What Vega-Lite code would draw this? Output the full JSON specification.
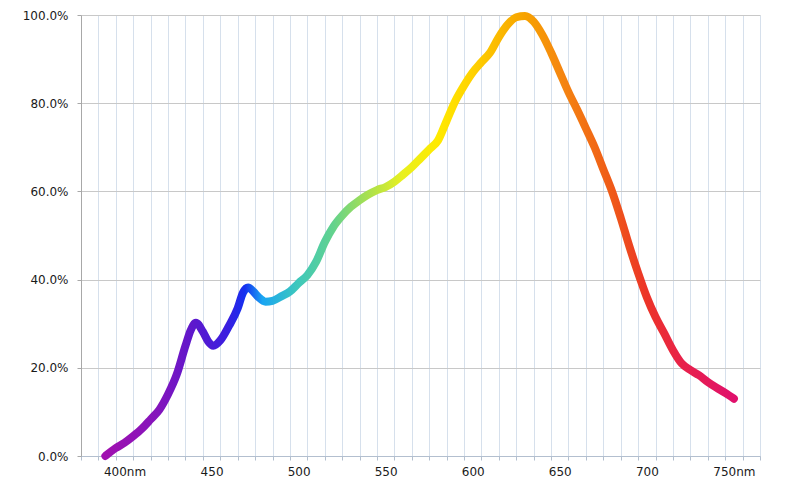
{
  "$schema": "https://vega.github.io/schema/vega-lite/v6.json",
  "width": 679,
  "height": 441,
  "autosize": {"type": "none"},
  "padding": {"left": 81, "top": 15, "right": 40, "bottom": 36},
  "background": "white",
  "config": {
    "view": {"stroke": null},
    "axis": {"labelFont": "DejaVu Sans", "labelFontSize": 12, "labelColor": "#1a1a1a", "title": null}
  },
  "data": {
    "values": [
      {"nm": 389, "v": 0.0},
      {"nm": 395, "v": 0.018},
      {"nm": 400, "v": 0.03},
      {"nm": 405, "v": 0.045},
      {"nm": 410, "v": 0.062},
      {"nm": 415, "v": 0.083},
      {"nm": 420, "v": 0.105},
      {"nm": 425, "v": 0.14},
      {"nm": 430, "v": 0.185},
      {"nm": 435, "v": 0.25},
      {"nm": 438, "v": 0.285},
      {"nm": 441, "v": 0.302},
      {"nm": 445, "v": 0.282},
      {"nm": 448, "v": 0.26},
      {"nm": 451, "v": 0.25},
      {"nm": 455, "v": 0.262},
      {"nm": 460, "v": 0.295},
      {"nm": 465, "v": 0.335},
      {"nm": 468, "v": 0.37},
      {"nm": 471, "v": 0.382},
      {"nm": 474, "v": 0.373},
      {"nm": 477, "v": 0.36},
      {"nm": 481, "v": 0.35},
      {"nm": 485, "v": 0.352},
      {"nm": 490, "v": 0.362},
      {"nm": 495, "v": 0.373},
      {"nm": 500, "v": 0.392},
      {"nm": 505, "v": 0.41},
      {"nm": 510, "v": 0.44},
      {"nm": 515, "v": 0.485},
      {"nm": 520, "v": 0.52},
      {"nm": 525, "v": 0.545},
      {"nm": 530, "v": 0.565},
      {"nm": 535, "v": 0.58},
      {"nm": 540, "v": 0.593},
      {"nm": 545, "v": 0.603},
      {"nm": 550, "v": 0.61},
      {"nm": 555, "v": 0.622},
      {"nm": 560, "v": 0.638},
      {"nm": 565, "v": 0.655},
      {"nm": 570, "v": 0.675},
      {"nm": 575, "v": 0.695},
      {"nm": 580, "v": 0.715},
      {"nm": 585, "v": 0.76},
      {"nm": 590, "v": 0.805},
      {"nm": 595, "v": 0.84},
      {"nm": 600, "v": 0.87},
      {"nm": 605, "v": 0.893},
      {"nm": 610, "v": 0.915},
      {"nm": 615, "v": 0.95},
      {"nm": 620, "v": 0.978},
      {"nm": 625, "v": 0.995},
      {"nm": 630, "v": 0.998},
      {"nm": 635, "v": 0.985},
      {"nm": 640, "v": 0.955},
      {"nm": 645, "v": 0.915},
      {"nm": 650, "v": 0.87},
      {"nm": 655, "v": 0.825},
      {"nm": 660, "v": 0.785},
      {"nm": 665, "v": 0.743},
      {"nm": 670, "v": 0.7},
      {"nm": 675, "v": 0.65},
      {"nm": 680, "v": 0.6},
      {"nm": 685, "v": 0.54},
      {"nm": 690, "v": 0.475},
      {"nm": 695, "v": 0.415},
      {"nm": 700, "v": 0.36},
      {"nm": 705, "v": 0.315},
      {"nm": 710, "v": 0.278},
      {"nm": 715, "v": 0.24},
      {"nm": 720, "v": 0.21},
      {"nm": 725, "v": 0.195},
      {"nm": 730, "v": 0.183},
      {"nm": 735, "v": 0.168},
      {"nm": 740, "v": 0.155},
      {"nm": 745, "v": 0.143},
      {"nm": 750, "v": 0.13}
    ]
  },
  "mark": {
    "type": "line",
    "interpolate": "monotone",
    "strokeWidth": 8,
    "strokeCap": "round",
    "strokeJoin": "round",
    "stroke": {
      "gradient": "linear",
      "x1": 0, "y1": 0, "x2": 1, "y2": 0,
      "stops": [
        {"offset": 0, "color": "#a010b0"},
        {"offset": 0.083, "color": "#8414bc"},
        {"offset": 0.139, "color": "#5e18cc"},
        {"offset": 0.194, "color": "#3a1ee0"},
        {"offset": 0.222, "color": "#1430f0"},
        {"offset": 0.25, "color": "#1aa6f2"},
        {"offset": 0.306, "color": "#3ec8bc"},
        {"offset": 0.361, "color": "#62d28e"},
        {"offset": 0.417, "color": "#a8e050"},
        {"offset": 0.472, "color": "#e8f020"},
        {"offset": 0.528, "color": "#ffea00"},
        {"offset": 0.583, "color": "#ffd200"},
        {"offset": 0.667, "color": "#f7a200"},
        {"offset": 0.722, "color": "#f58810"},
        {"offset": 0.806, "color": "#ef5a18"},
        {"offset": 0.861, "color": "#ec3428"},
        {"offset": 0.917, "color": "#e8224a"},
        {"offset": 1, "color": "#e0106c"}
      ]
    }
  },
  "encoding": {
    "x": {
      "field": "nm",
      "type": "quantitative",
      "scale": {"domain": [375, 765], "nice": false, "zero": false},
      "axis": {
        "values": [375,380,385,390,395,400,405,410,415,420,425,430,435,440,445,450,455,460,465,470,475,480,485,490,495,500,505,510,515,520,525,530,535,540,545,550,555,560,565,570,575,580,585,590,595,600,605,610,615,620,625,630,635,640,645,650,655,660,665,670,675,680,685,690,695,700,705,710,715,720,725,730,735,740,745,750,755,760,765],
        "grid": true,
        "gridColor": "#d6e0ec",
        "gridOpacity": {"condition": {"test": "datum.value % 10 == 5", "value": 1}, "value": 0},
        "tickOpacity": {"condition": {"test": "datum.value % 10 == 5", "value": 1}, "value": 0},
        "tickSize": 4,
        "tickColor": "#b3bfcf",
        "domainColor": "#b3bfcf",
        "labelPadding": 6,
        "labelOverlap": false,
        "labelFlush": false,
        "labelExpr": "datum.value == 400 ? '400nm' : datum.value == 750 ? '750nm' : (datum.value % 50 == 0 ? datum.label : '')"
      }
    },
    "y": {
      "field": "v",
      "type": "quantitative",
      "scale": {"domain": [0, 1], "nice": false},
      "axis": {
        "values": [0, 0.2, 0.4, 0.6, 0.8, 1],
        "format": ".1%",
        "grid": true,
        "gridColor": "#c8c8c8",
        "domainColor": "#a8a8a8",
        "tickColor": "#a8a8a8",
        "tickSize": 4,
        "labelPadding": 9
      }
    }
  }
}
